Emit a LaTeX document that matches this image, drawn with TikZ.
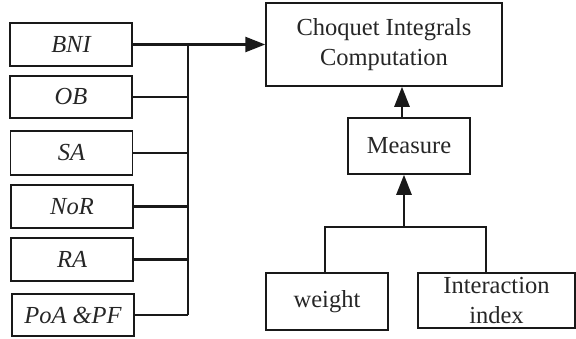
\documentclass[tikz,border=0pt]{standalone}
\usepackage{fontspec}
\setmainfont{Liberation Serif}
\usetikzlibrary{arrows.meta}
\begin{document}
\begin{tikzpicture}[x=1pt,y=-1pt,
  box/.style={draw=black!90,line width=1.5pt,rectangle,inner sep=0pt,text=black!85,
    font=\fontsize{24.5}{29.5}\selectfont,align=center},
  ibox/.style={box,font=\fontsize{24.5}{29.5}\selectfont\itshape},
  conn/.style={line width=2.6pt,black!90},
  arr/.style={conn,-{Triangle[length=20pt,width=15pt]}}]
\useasboundingbox (0,0) rectangle (576,338);
% left boxes
\node[ibox,minimum width=122pt,minimum height=43pt] (bni) at (71,44.5) {BNI};
\node[ibox,minimum width=122pt,minimum height=42pt] (ob) at (71,97) {OB};
\node[ibox,minimum width=122pt,minimum height=44pt] (sa) at (71.5,153) {SA};
\node[ibox,minimum width=122pt,minimum height=43pt] (nor) at (72,206.5) {NoR};
\node[ibox,minimum width=122pt,minimum height=43pt] (ra) at (72,259.5) {RA};
\node[ibox,minimum width=122pt,minimum height=42pt] (poa) at (73,315) {PoA \&PF};
% right boxes
\node[box,minimum width=236pt,minimum height=83pt] (ci) at (384,44.5) {Choquet Integrals\\Computation};
\node[box,minimum width=122pt,minimum height=56pt] (me) at (409,146) {Measure};
\node[box,minimum width=122pt,minimum height=57pt] (we) at (327,301.5) {weight};
\node[box,minimum width=157pt,minimum height=55pt] (ii) at (496.5,300.5) {Interaction\\index};
% bus
\coordinate (bt) at (188,44.5);
\coordinate (bb) at (188,315);
\draw[conn] (bt) -- (bb);
\draw[arr] (bni.east) -- (ci.west);
\foreach \n in {ob,sa,nor,ra,poa} \draw[conn] (\n.east) -- (\n.east -| bt);
% measure to choquet
\coordinate (mt) at (402,0);
\draw[arr] (mt |- me.north) -- (mt |- ci.south);
% weight / interaction to measure
\coordinate (j) at (404,227);
\coordinate (jl) at (325,227);
\coordinate (jr) at (486,227);
\draw[conn] (jl |- we.north) -- (jl) -- (jr) -- (jr |- ii.north);
\draw[arr] (j) -- (j |- me.south);
\end{tikzpicture}
\end{document}
